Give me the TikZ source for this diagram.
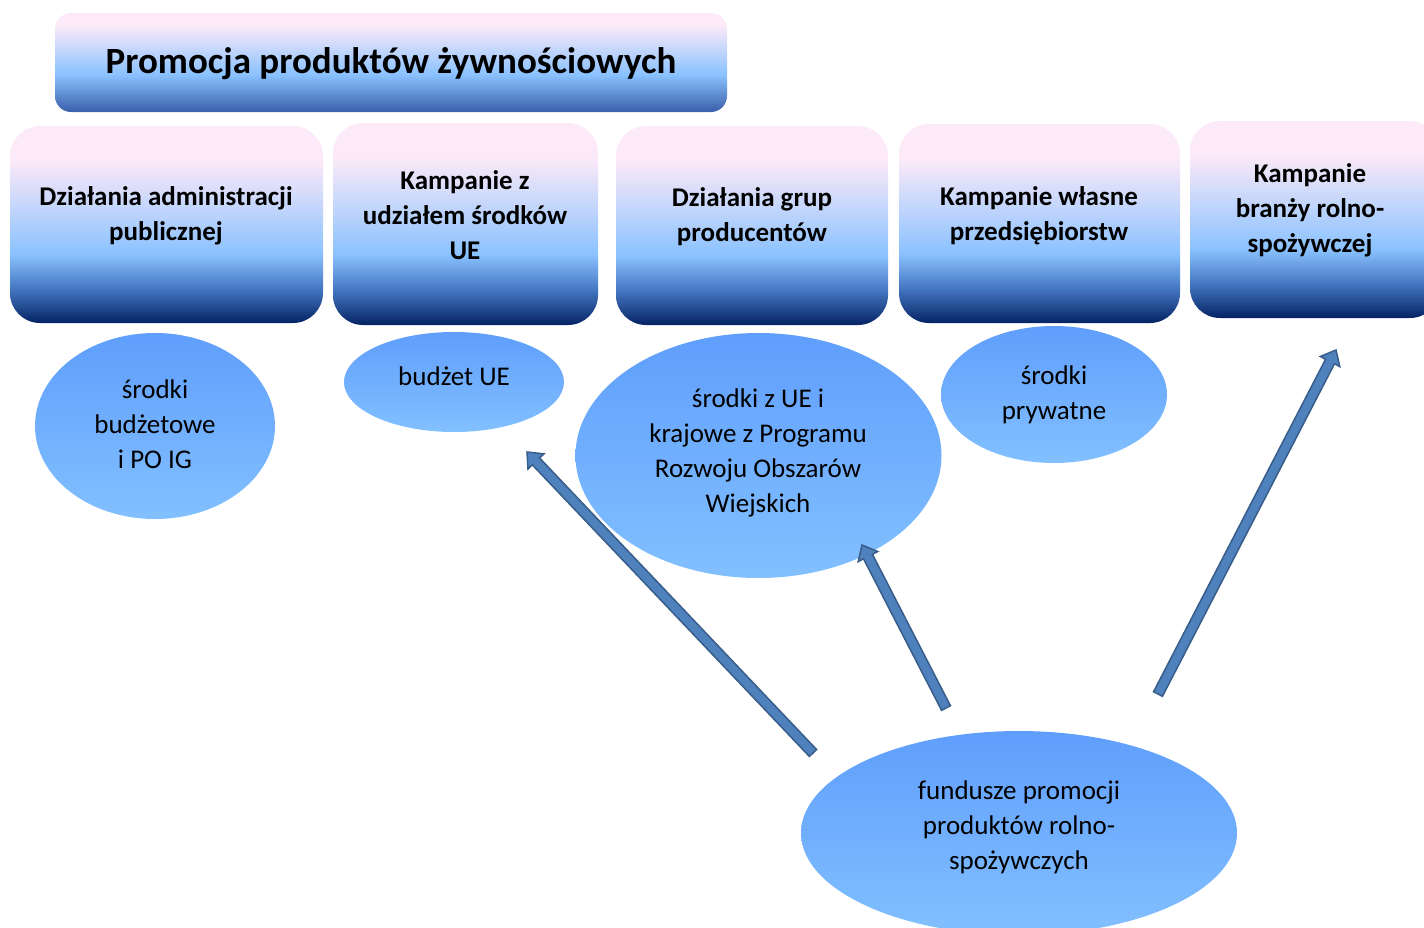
\documentclass[tikz,border=0pt]{standalone}
\usepackage{fontspec}
\setmainfont{Carlito}
\usetikzlibrary{shapes.geometric,calc}
\definecolor{pinkT}{RGB}{253,234,248}
\definecolor{lblue}{RGB}{138,194,255}
\definecolor{mblue}{RGB}{70,122,196}
\definecolor{navy}{RGB}{5,35,100}
\definecolor{tnavy}{RGB}{58,94,170}
\definecolor{elTop}{RGB}{95,158,252}
\definecolor{elBot}{RGB}{130,192,255}
\definecolor{arrFill}{RGB}{79,129,189}
\definecolor{arrEdge}{RGB}{56,93,138}
\pgfdeclareverticalshading{boxshade}{100bp}{color(0bp)=(navy); color(25bp)=(navy); color(34bp)=(mblue); color(42.5bp)=(lblue); color(66.5bp)=(pinkT); color(100bp)=(pinkT)}
\pgfdeclareverticalshading{titleshade}{100bp}{color(0bp)=(tnavy); color(25bp)=(tnavy); color(44bp)=(lblue); color(69bp)=(pinkT); color(100bp)=(pinkT)}
\newcommand\blockarrow[2]{%
  \coordinate (#2-base) at ($(#2)!13pt!(#1)$);
  \filldraw[fill=arrFill, draw=arrEdge, line width=1.5pt, line join=miter]
    ($(#1)!5pt!90:(#2)$) -- ($(#2-base)!5pt!90:(#2)$) -- ($(#2-base)!11pt!90:(#2)$)
    -- (#2) -- ($(#2-base)!11pt!-90:(#2)$) -- ($(#2-base)!5pt!-90:(#2)$)
    -- ($(#1)!5pt!-90:(#2)$) -- cycle;}
\tikzset{
  box/.style={draw=none, rounded corners=30pt, shading=boxshade, inner sep=0pt},
  titlebox/.style={draw=none, rounded corners=16pt, shading=titleshade, inner sep=0pt},
  btext/.style={align=center, font=\fontsize{27}{35}\selectfont\bfseries, inner sep=0pt},
  ttext/.style={font=\fontsize{37}{44}\selectfont\bfseries, inner sep=0pt},
  ell/.style={ellipse, draw=none, top color=elTop, bottom color=elBot, inner sep=0pt},
  etext/.style={align=center, font=\fontsize{27}{35}\selectfont, inner sep=0pt},
}
\begin{document}
\begin{tikzpicture}[x=1pt, y=-1pt]
\useasboundingbox (0,0) rectangle (1424,927);
\clip (0,0) rectangle (1424,927);
% title
\node[titlebox, minimum width=672pt, minimum height=99pt] (title) at (391,62.5) {};
\node[ttext] (titletext) at (391,64) {Promocja produktów żywnościowych};
% boxes
\node[box, minimum width=313pt, minimum height=197pt] (b1) at (166.5,224.5) {};
\node[box, minimum width=265pt, minimum height=202pt] (b2) at (465.5,224) {};
\node[box, minimum width=272pt, minimum height=199pt] (b3) at (752,225.5) {};
\node[box, minimum width=281pt, minimum height=199pt] (b4) at (1039.5,223.5) {};
\node[box, minimum width=250pt, minimum height=197pt] (b5) at (1315,219.5) {};
\node[btext] (b1t) at (166,215.5) {Działania administracji\\publicznej};
\node[btext] (b2t) at (465,215) {Kampanie z\\udziałem środków\\UE};
\node[btext] (b3t) at (752,216.5) {Działania grup\\producentów};
\node[btext] (b4t) at (1039,215.5) {Kampanie własne\\przedsiębiorstw};
\node[btext] (b5t) at (1310,210) {Kampanie\\branży rolno-\\spożywczej};
% ellipses
\node[ell, minimum width=240pt, minimum height=186pt] (e1) at (155,426) {};
\node[ell, minimum width=220pt, minimum height=100pt] (e2) at (454,382) {};
\node[ell, minimum width=366pt, minimum height=245pt] (e3) at (758.5,455.5) {};
\node[ell, minimum width=226pt, minimum height=137pt] (e4) at (1054,394.5) {};
\node[ell, minimum width=436pt, minimum height=204pt] (e5) at (1019,833) {};
\node[etext] (e1t) at (155,424) {środki\\budżetowe\\i PO IG};
\node[etext] (e2t) at (454,376) {budżet UE};
\node[etext] (e3t) at (758,452.5) {środki z UE i\\krajowe z Programu\\Rozwoju Obszarów\\Wiejskich};
\node[etext] (e4t) at (1054,394.5) {środki\\prywatne};
\node[etext] (e5t) at (1019,827) {fundusze promocji\\produktów rolno-\\spożywczych};
% arrows
\coordinate (a1s) at (813,753);
\coordinate (a1e) at (527,452);
\coordinate (a2s) at (946,708);
\coordinate (a2e) at (862,545);
\coordinate (a3s) at (1158,694);
\coordinate (a3e) at (1336,350);
\blockarrow{a1s}{a1e}
\blockarrow{a2s}{a2e}
\blockarrow{a3s}{a3e}
\end{tikzpicture}
\end{document}
